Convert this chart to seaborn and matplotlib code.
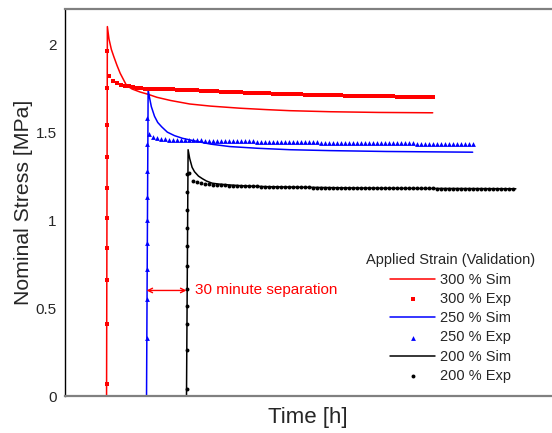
import matplotlib
matplotlib.use("Agg")
import matplotlib.pyplot as plt
import seaborn as sns
import pandas as pd

# ---------------- data ----------------
start_300_h = 0.0
start_250_h = 0.5
start_200_h = 1.0

# simulation curves (time since start of test [h], stress [MPa])
sim300_t = [0.0, 0.01, 0.03, 0.06, 0.09, 0.13, 0.17, 0.21, 0.25, 0.32, 0.42, 0.52, 0.63, 0.80,
            1.04, 1.30, 1.67, 2.00, 2.29, 2.80, 3.40, 4.08]
sim300_s = [0.0, 2.10, 2.03, 1.97, 1.93, 1.88, 1.835, 1.80, 1.765, 1.745, 1.728, 1.715, 1.698, 1.68,
            1.66, 1.648, 1.636, 1.628, 1.622, 1.616, 1.612, 1.61]

sim250_t = [0.0, 0.02, 0.04, 0.06, 0.10, 0.14, 0.19, 0.26, 0.35, 0.45, 0.60, 0.80, 1.04, 1.40,
            1.80, 2.29, 3.00, 4.08]
sim250_s = [0.0, 1.74, 1.69, 1.645, 1.59, 1.555, 1.53, 1.50, 1.48, 1.465, 1.45, 1.432, 1.418, 1.408,
            1.40, 1.395, 1.39, 1.386]

sim200_t = [0.0, 0.02, 0.04, 0.07, 0.10, 0.15, 0.20, 0.25, 0.32, 0.40, 0.53, 0.70, 1.00, 2.00,
            3.00, 4.12]
sim200_s = [0.0, 1.40, 1.35, 1.30, 1.275, 1.25, 1.235, 1.222, 1.21, 1.205, 1.20, 1.195, 1.19, 1.183,
            1.18, 1.178]

# experimental loading points (all at start time)
exp300_load = [0.07, 0.41, 0.66, 0.84, 1.01, 1.18, 1.36, 1.54, 1.75, 1.96]
exp250_load = [0.33, 0.55, 0.72, 0.87, 1.00, 1.13, 1.28, 1.43, 1.58]
exp200_load = [0.04, 0.26, 0.41, 0.51, 0.61, 0.74, 0.85, 0.956, 1.06, 1.16, 1.26]

# experimental relaxation sampling times (h since start)
exp_rel_time_h = [
    0.03, 0.08, 0.13, 0.18, 0.23, 0.28, 0.33, 0.38, 0.43, 0.48,
    0.53, 0.58, 0.63, 0.68, 0.73, 0.78, 0.83, 0.88, 0.93, 0.98,
    1.03, 1.08, 1.13, 1.18, 1.23, 1.28, 1.33, 1.38, 1.43, 1.48,
    1.53, 1.58, 1.63, 1.68, 1.73, 1.78, 1.83, 1.88, 1.93, 1.98,
    2.03, 2.08, 2.13, 2.18, 2.23, 2.28, 2.33, 2.38, 2.43, 2.48,
    2.53, 2.58, 2.63, 2.68, 2.73, 2.78, 2.83, 2.88, 2.93, 2.98,
    3.03, 3.08, 3.13, 3.18, 3.23, 3.28, 3.33, 3.38, 3.43, 3.48,
    3.53, 3.58, 3.63, 3.68, 3.73, 3.78, 3.83, 3.88, 3.93, 3.98,
    4.03, 4.08]

exp300_relax = [
    1.820, 1.790, 1.778, 1.770, 1.764, 1.760, 1.756, 1.753, 1.750, 1.748,
    1.747, 1.746, 1.746, 1.745, 1.744, 1.744, 1.743, 1.742, 1.741, 1.740,
    1.739, 1.738, 1.737, 1.736, 1.735, 1.734, 1.733, 1.732, 1.731, 1.730,
    1.729, 1.728, 1.727, 1.726, 1.725, 1.724, 1.723, 1.722, 1.722, 1.721,
    1.720, 1.719, 1.718, 1.718, 1.717, 1.716, 1.715, 1.715, 1.714, 1.713,
    1.713, 1.712, 1.712, 1.711, 1.711, 1.710, 1.710, 1.709, 1.709, 1.708,
    1.708, 1.707, 1.707, 1.706, 1.706, 1.705, 1.705, 1.704, 1.704, 1.704,
    1.703, 1.703, 1.702, 1.702, 1.702, 1.701, 1.701, 1.701, 1.700, 1.700,
    1.700, 1.700]

exp250_relax = [
    1.490, 1.472, 1.465, 1.461, 1.459, 1.458, 1.457, 1.456, 1.456, 1.455,
    1.454, 1.454, 1.453, 1.453, 1.452, 1.452, 1.451, 1.451, 1.450, 1.450,
    1.450, 1.449, 1.449, 1.448, 1.448, 1.447, 1.447, 1.446, 1.446, 1.446,
    1.445, 1.445, 1.445, 1.444, 1.444, 1.444, 1.443, 1.443, 1.443, 1.442,
    1.442, 1.442, 1.442, 1.441, 1.441, 1.441, 1.441, 1.440, 1.440, 1.440,
    1.440, 1.439, 1.439, 1.439, 1.439, 1.438, 1.438, 1.438, 1.438, 1.437,
    1.437, 1.437, 1.437, 1.436, 1.436, 1.436, 1.436, 1.435, 1.435, 1.435,
    1.435, 1.435, 1.434, 1.434, 1.434, 1.434, 1.434, 1.433, 1.433, 1.433,
    1.433, 1.433]

exp200_relax = [
    1.270, 1.225, 1.215, 1.210, 1.207, 1.204, 1.202, 1.200, 1.199, 1.197,
    1.196, 1.195, 1.194, 1.193, 1.193, 1.192, 1.191, 1.191, 1.190, 1.190,
    1.189, 1.189, 1.188, 1.188, 1.188, 1.187, 1.187, 1.187, 1.186, 1.186,
    1.186, 1.185, 1.185, 1.185, 1.185, 1.184, 1.184, 1.184, 1.184, 1.183,
    1.183, 1.183, 1.183, 1.183, 1.182, 1.182, 1.182, 1.182, 1.182, 1.181,
    1.181, 1.181, 1.181, 1.181, 1.181, 1.180, 1.180, 1.180, 1.180, 1.180,
    1.180, 1.180, 1.179, 1.179, 1.179, 1.179, 1.179, 1.179, 1.179, 1.179,
    1.178, 1.178, 1.178, 1.178, 1.178, 1.178, 1.178, 1.178, 1.178, 1.178,
    1.178, 1.178]

ytick_vals = [0, 0.5, 1, 1.5, 2]
ytick_labels = ["0", "0.5", "1", "1.5", "2"]

# ---------------- styling ----------------
sns.set_style("white")
plt.rcParams["font.family"] = ["Liberation Sans", "DejaVu Sans"]

fig = plt.figure(figsize=(5.52, 4.33), dpi=100)
ax = fig.add_axes([65 / 552, 37 / 433, 486 / 552, 387 / 433])


def sim_df(t, s, t0):
    return pd.DataFrame({"t": [t0 + v for v in t], "s": s})


def exp_df(load, relax, t0):
    ts = [t0] * len(load) + [t0 + v for v in exp_rel_time_h]
    return pd.DataFrame({"t": ts, "s": list(load) + list(relax)})


series = [
    ("300 % Sim", "300 % Exp", sim300_t, sim300_s, exp300_load, exp300_relax, start_300_h, "#ff0000", "s", 8),
    ("250 % Sim", "250 % Exp", sim250_t, sim250_s, exp250_load, exp250_relax, start_250_h, "#0000ff", "^", 12),
    ("200 % Sim", "200 % Exp", sim200_t, sim200_s, exp200_load, exp200_relax, start_200_h, "#000000", "o", 8),
]

for lab_sim, lab_exp, st, ss, el, er, t0, col, mk, ms in series:
    sns.lineplot(data=sim_df(st, ss, t0), x="t", y="s", ax=ax, color=col, lw=1.1,
                 estimator=None, sort=False, label=lab_sim)
    sns.scatterplot(data=exp_df(el, er, t0), x="t", y="s", ax=ax, color=col, marker=mk,
                    s=ms, linewidth=0, label=lab_exp, zorder=3)

ax.set_xlim(-0.52, 5.56)
ax.set_ylim(0, 2.2)
ax.set_xticks([])
ax.set_yticks(ytick_vals)
ax.set_yticklabels(ytick_labels, fontsize=11)
ax.tick_params(axis="y", direction="in", length=4, width=0.8, color="black", pad=6)
ax.set_xlabel("Time [h]", fontsize=16, labelpad=8)
ax.set_ylabel("Nominal Stress [MPa]", fontsize=15.3, labelpad=2)

for side in ["top", "bottom"]:
    ax.spines[side].set_color("#808080")
    ax.spines[side].set_linewidth(1.6)
ax.spines["left"].set_color("black")
ax.spines["left"].set_linewidth(1.0)
ax.spines["right"].set_visible(False)

# separation annotation
ax.annotate("", xy=(start_250_h, 0.6), xytext=(start_200_h, 0.6),
            arrowprops=dict(arrowstyle="<->", color="#ff0000", lw=1.0,
                            shrinkA=0, shrinkB=0, mutation_scale=8))
ax.text(start_200_h + 0.11, 0.6, "30 minute separation", color="#ff0000", fontsize=11,
        va="center", ha="left")

handles, labels = ax.get_legend_handles_labels()
leg = ax.legend(handles, labels, title="Applied Strain (Validation)", frameon=False,
                loc="lower right", bbox_to_anchor=(0.994, 0.0), fontsize=10.5,
                title_fontsize=10.5, handlelength=3.1, handletextpad=0.3,
                labelspacing=0.36, scatterpoints=1, markerscale=1.0)
leg._legend_box.align = "center"

fig.savefig("out.png", dpi=100)
